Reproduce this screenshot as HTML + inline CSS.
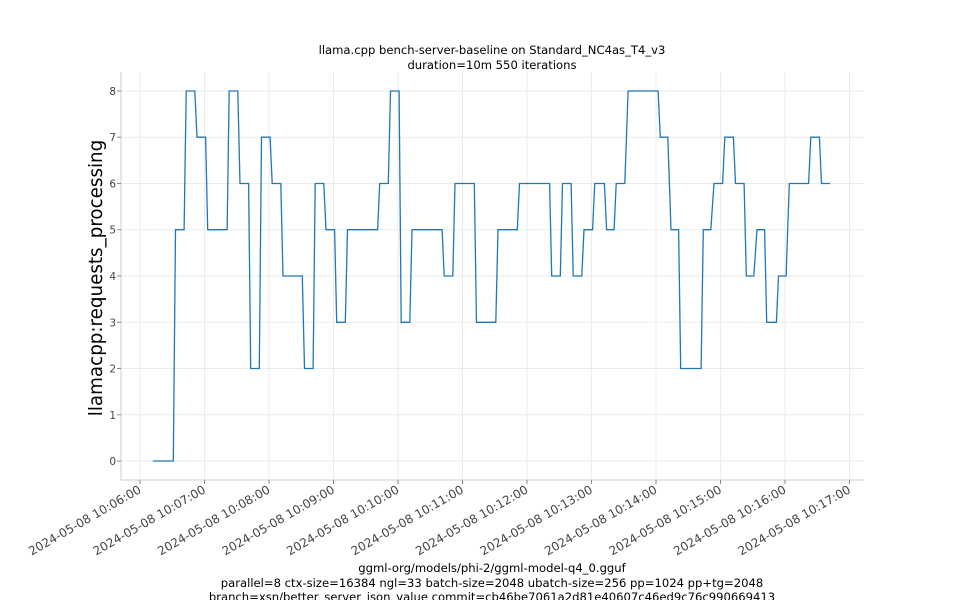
<!DOCTYPE html>
<html><head><meta charset="utf-8"><style>
body{margin:0;background:#fff;}
svg{display:block;font-family:"DejaVu Sans","Liberation Sans",sans-serif;}
</style></head><body>
<svg id="chart" width="960" height="600" viewBox="0 0 960 600">
<rect width="960" height="600" fill="#fff"/>
<text x="492" y="54" font-size="11.6" text-anchor="middle" fill="#000">llama.cpp bench-server-baseline on Standard_NC4as_T4_v3</text>
<text x="492" y="69" font-size="11.6" text-anchor="middle" fill="#000">duration=10m 550 iterations</text>
<g id="grid"></g>
<line x1="121" y1="72" x2="121" y2="480" stroke="#ccc"/>
<line x1="121" y1="480" x2="864" y2="480" stroke="#ccc"/>
<g id="ticks"></g>
<g id="series"></g>
<text transform="translate(102,278) rotate(-90)" font-size="18.3" text-anchor="middle" fill="#000">llamacpp:requests_processing</text>
<text x="492" y="572" font-size="11.6" text-anchor="middle" fill="#000">ggml-org/models/phi-2/ggml-model-q4_0.gguf</text>
<text x="492" y="587" font-size="11.6" text-anchor="middle" fill="#000">parallel=8 ctx-size=16384 ngl=33 batch-size=2048 ubatch-size=256 pp=1024 pp+tg=2048</text>
<text x="492" y="601" font-size="11.6" text-anchor="middle" fill="#000">branch=xsn/better_server_json_value commit=cb46be7061a2d81e40607c46ed9c76c990669413</text>
</svg>
<script>
// seconds since 2024-05-08 10:06:00
const times = [12,31,33,41,43,51,53,61,63,81,83,91,93,101,103,111,113,121,123,131,133,151,153,161,163,171,173,181,183,191,193,221,223,231,233,241,243,251,253,281,283,291,293,311,313,331,333,351,353,381,383,391,393,401,403,411,413,421,423,432,434,441,443,451,454,482,484,491,494,501,503,522,524,531,534,542,544,552,554,562,564,571,574,581,583,592,594,601,604,622,624,632,634,642];
const values = [0,0,5,5,8,8,7,7,5,5,8,8,6,6,2,2,7,7,6,6,4,4,2,2,6,6,5,5,3,3,5,5,6,6,8,8,3,3,5,5,4,4,6,6,3,3,5,5,6,6,4,4,6,6,4,4,5,5,6,6,5,5,6,6,8,8,7,7,5,5,2,2,5,5,6,6,7,7,6,6,4,4,5,5,3,3,4,4,6,6,7,7,6,6];
const yTicks = [0,1,2,3,4,5,6,7,8];
const xTickLabels = ["2024-05-08 10:06:00","2024-05-08 10:07:00","2024-05-08 10:08:00","2024-05-08 10:09:00","2024-05-08 10:10:00","2024-05-08 10:11:00","2024-05-08 10:12:00","2024-05-08 10:13:00","2024-05-08 10:14:00","2024-05-08 10:15:00","2024-05-08 10:16:00","2024-05-08 10:17:00"];
const xTickSeconds = [0,60,120,180,240,300,360,420,480,540,600,660];

const NS="http://www.w3.org/2000/svg";
const X0=121,X1=864,Y0=480,Y1=72;
const xMin=-17.7,xMax=673.5,yMin=-0.41,yMax=8.41;
function xs(t){return X0+(t-xMin)/(xMax-xMin)*(X1-X0);}
function ys(v){return Y0-(v-yMin)/(yMax-yMin)*(Y0-Y1);}
function mk(tag,attrs,parent){const e=document.createElementNS(NS,tag);for(const k in attrs)e.setAttribute(k,attrs[k]);parent.appendChild(e);return e;}
const grid=document.getElementById('grid'),ticks=document.getElementById('ticks'),series=document.getElementById('series');
yTicks.forEach(v=>{
  const y=ys(v);
  const g=mk('line',{x1:X0,x2:X1,y1:y,y2:y,stroke:'#ebebeb'},grid);
  
  
  const t=mk('line',{x1:X0-4,x2:X0,y1:y,y2:y,stroke:'#888'},ticks);
  
  
  const l=mk('text',{x:X0-5,y:y+4,'font-size':'10.5','text-anchor':'end',fill:'#444'},ticks);
  l.textContent=v;
  
  
});
xTickSeconds.forEach((s,i)=>{
  const x=xs(s);
  const g=mk('line',{x1:x,x2:x,y1:Y1,y2:Y0,stroke:'#ebebeb'},grid);
  
  
  const t=mk('line',{x1:x,x2:x,y1:Y0,y2:Y0+4,stroke:'#888'},ticks);
  
  
  const l=mk('text',{transform:`translate(${x+2},${Y0+12}) rotate(-30)`,'font-size':'12','text-anchor':'end',fill:'#444'},ticks);
  l.textContent=xTickLabels[i];
  
  
});
const pts=times.map((t,i)=>xs(t).toFixed(1)+','+ys(values[i]).toFixed(1)).join(' ');
const pl=mk('polyline',{points:pts,fill:'none',stroke:'#1f77b4','stroke-width':'1.3'},series);


</script>
</body></html>
